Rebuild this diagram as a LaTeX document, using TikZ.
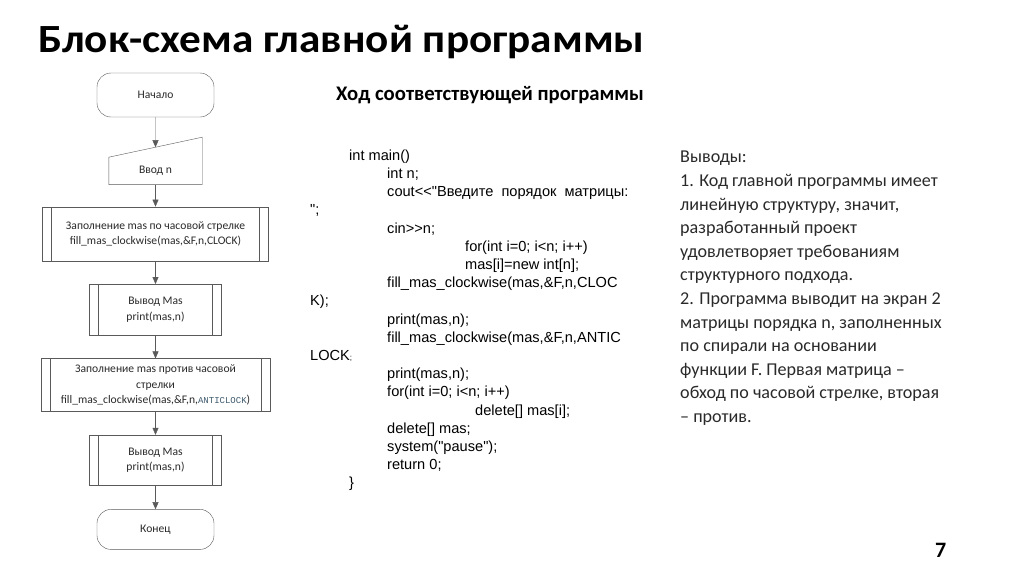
\documentclass[tikz,border=0pt]{standalone}
\usepackage{fontspec}
\setmainfont{Carlito}
\newfontfamily\titlefont[FakeStretch=1.08]{Carlito}
\newfontfamily\codefont[Ligatures=TeXOff]{Liberation Sans}
\newfontfamily\keyfont{Liberation Mono}
\usepackage{xcolor}
\usetikzlibrary{arrows.meta, positioning, calc}

\definecolor{linegray}{HTML}{5A5A5A}
\definecolor{textgray}{HTML}{2A2A2A}
\definecolor{keyslate}{HTML}{3E5A6E}

\begin{document}
\begin{tikzpicture}[
  x=1pt, y=-1pt,
  chart/.style={font=\fontsize{11.6}{15.5}\selectfont, text=textgray, align=center, inner sep=0pt},
  term/.style={chart, draw=linegray, rounded corners=14pt, minimum width=117pt},
  proc/.style={chart, draw=linegray, path picture={
    \draw[linegray] ([xshift=9pt]path picture bounding box.north west) -- ([xshift=9pt]path picture bounding box.south west);
    \draw[linegray] ([xshift=-9pt]path picture bounding box.north east) -- ([xshift=-9pt]path picture bounding box.south east);}},
  arrow/.style={draw=linegray, -{Triangle[width=6pt, length=7pt]}},
  heading/.style={inner sep=0pt, anchor=base west},
  node distance=23pt
]
\useasboundingbox[fill=white] (0,0) rectangle (1024,574);

\node[heading, font=\titlefont\fontsize{40}{44}\selectfont\bfseries] (title) at (38,52) {Блок-схема главной программы};
\node[heading, font=\fontsize{20.7}{24}\selectfont\bfseries] (subtitle) at (336,100) {Ход соответствующей программы};
\node[heading, font=\fontsize{22}{24}\selectfont\bfseries] (page) at (935,557) {7};

\node[term, minimum height=44pt] (start) at (155.5,95) {Начало};
\node[chart, minimum width=93pt, minimum height=27pt, below=40pt of start] (in) {Ввод n};
\node[proc, minimum width=226pt, minimum height=54pt, below=22pt of in] (fill1) {Заполнение mas по часовой стрелке\\fill\_mas\_clockwise(mas,\&F,n,CLOCK)};
\node[proc, minimum width=132pt, minimum height=51pt, below=of fill1] (out1) {Вывод Mas\\print(mas,n)};
\node[proc, minimum width=229pt, minimum height=53pt, below=of out1] (fill2) {Заполнение mas против часовой\\стрелки\\fill\_mas\_clockwise(mas,\&F,n,{\keyfont\fontsize{9}{15.5}\selectfont\color{keyslate}ANTICLOCK})};
\node[proc, minimum width=132pt, minimum height=50pt, below=of fill2] (out2) {Вывод Mas\\print(mas,n)};
\node[term, minimum height=40pt, below=24pt of out2] (stop) {Конец};

\draw[linegray] (in.south west) -- (in.south east) -- ([yshift=20pt]in.north east) -- (in.north west) -- cycle;
\coordinate (in top) at ($(in.north west)!0.5!([yshift=20pt]in.north east)$);

\draw[arrow] (start) -- (in top);
\draw[arrow] (in) -- (fill1);
\draw[arrow] (fill1) -- (out1);
\draw[arrow] (out1) -- (fill2);
\draw[arrow] (fill2) -- (out2);
\draw[arrow] (out2) -- (stop);

\node[font=\codefont\fontsize{14.6}{18.2}\selectfont, align=left, inner sep=0pt, anchor=north west] (prog) at (310,149.5) {%
\hspace*{39pt}int main()\\
\hspace*{77pt}int n;\\
\hspace*{77pt}cout<<"Введите\ \ порядок\ \ матрицы:\\
";\\
\hspace*{77pt}cin>>n;\\
\hspace*{155pt}for(int i=0; i<n; i++)\\
\hspace*{155pt}mas[i]=new int[n];\\
\hspace*{77pt}fill\_mas\_clockwise(mas,\&F,n,CLOC\\
K);\\
\hspace*{77pt}print(mas,n);\\
\hspace*{77pt}fill\_mas\_clockwise(mas,\&F,n,ANTIC\\
LOCK{\fontsize{8}{8}\selectfont;}\\
\hspace*{77pt}print(mas,n);\\
\hspace*{77pt}for(int i=0; i<n; i++)\\
\hspace*{165pt}delete[] mas[i];\\
\hspace*{77pt}delete[] mas;\\
\hspace*{77pt}system("pause");\\
\hspace*{77pt}return 0;\\
\hspace*{39pt}\}};

\node[font=\fontsize{18.1}{23.6}\selectfont, text=textgray, align=left, inner sep=0pt, anchor=north west] (notes) at (680,151) {%
Выводы:\\
1. Код главной программы имеет\\
линейную структуру, значит,\\
разработанный проект\\
удовлетворяет требованиям\\
структурного подхода.\\
2. Программа выводит на экран 2\\
матрицы порядка n, заполненных\\
по спирали на основании\\
функции F. Первая матрица –\\
обход по часовой стрелке, вторая\\
– против.};
\end{tikzpicture}
\end{document}
